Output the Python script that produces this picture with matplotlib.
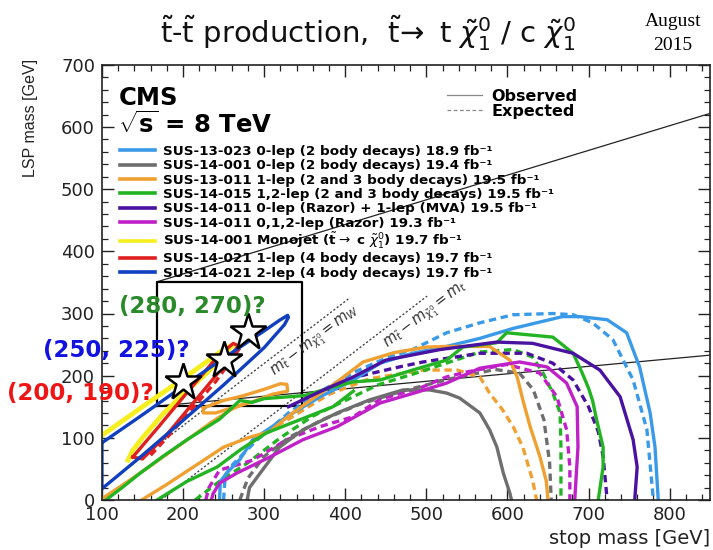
import matplotlib
matplotlib.use("Agg")
import matplotlib.pyplot as plt
from matplotlib.ticker import MultipleLocator
from matplotlib.lines import Line2D

plt.rcParams['font.family'] = ['DejaVu Sans']
plt.rcParams['mathtext.fontset'] = 'custom'
plt.rcParams['mathtext.rm'] = 'DejaVu Sans'
plt.rcParams['mathtext.it'] = 'DejaVu Sans:italic'
plt.rcParams['mathtext.bf'] = 'DejaVu Sans:bold'

# ---------------- exclusion contours (stop mass, LSP mass) in GeV ----------------
# SUS-13-023 0-lep (2 body decays)
s13023_obs_x = [245, 246, 255, 270, 286, 328, 369, 410, 443, 483, 525, 566, 607, 668, 689, 723, 747, 763, 776, 782, 786]
s13023_obs_y = [0, 30, 45, 65, 97, 134, 166, 193, 220, 236, 247, 260, 276, 295, 295, 290, 269, 214, 140, 85, 0]
s13023_exp_x = [250, 252, 262, 290, 330, 370, 410, 450, 483, 525, 566, 607, 656, 681, 705, 730, 755, 772, 780]
s13023_exp_y = [0, 40, 58, 95, 140, 175, 205, 228, 242, 269, 285, 298, 300, 298, 285, 258, 193, 113, 0]

# SUS-14-001 0-lep (2 body decays)
s14001_obs_x = [279, 282, 295, 319, 348, 390, 430, 471, 504, 525, 541, 566, 578, 587, 595, 603, 605]
s14001_obs_y = [0, 20, 43, 85, 113, 140, 161, 177, 177, 172, 164, 140, 113, 85, 43, 11, 0]
s14001_exp_x = [270, 280, 300, 330, 370, 420, 470, 530, 585, 615, 632, 645, 652, 654]
s14001_exp_y = [0, 35, 70, 100, 128, 155, 175, 195, 210, 204, 177, 129, 60, 0]

# SUS-13-011 1-lep (2 and 3 body decays)
s13011_obs_x = [149, 180, 215, 250, 280, 307, 330, 360, 390, 422, 460, 500, 525, 578, 603, 612, 619, 628, 640, 648, 650]
s13011_obs_y = [0, 25, 55, 85, 100, 110, 135, 163, 190, 222, 237, 246, 247, 247, 225, 198, 161, 118, 70, 30, 0]
s13011_diag_x = [100, 130, 160, 200, 235, 260, 272]
s13011_diag_y = [2, 28, 55, 92, 125, 146, 153]
s13011_island_x = [225, 250, 275, 300, 320, 328, 329, 310, 286, 260, 240, 225, 225]
s13011_island_y = [148, 160, 168, 178, 187, 186, 175, 170, 158, 148, 140, 140, 148]
s13011_exp_x = [290, 330, 380, 430, 496, 538, 566, 578, 594, 607, 619, 631, 636]
s13011_exp_y = [100, 130, 170, 195, 209, 209, 198, 172, 145, 118, 85, 32, 0]

# SUS-14-015 1,2-lep (2 and 3 body decays)
s14015_obs_x = [105, 125, 147, 175, 205, 245, 270, 285, 300, 350, 380, 410, 443, 483, 525, 545, 587, 599,
                656, 681, 692, 700, 705, 710, 718, 718, 712]
s14015_obs_y = [0, 20, 43, 70, 97, 130, 160, 157, 163, 168, 180, 190, 193, 209, 225, 246, 253, 269,
                262, 236, 205, 180, 160, 129, 85, 53, 0]
s14015_band_x = [168, 205, 242, 272, 303, 344, 385, 410]
s14015_band_y = [0, 30, 53, 82, 108, 129, 150, 175]
s14015_exp_x = [215, 245, 280, 320, 360, 400, 440, 492, 566, 607, 631, 644, 656, 665, 666, 666]
s14015_exp_y = [0, 30, 60, 100, 135, 160, 185, 206, 238, 242, 230, 204, 172, 140, 85, 0]

# SUS-14-011 0-lep (Razor) + 1-lep (MVA)
s14011a_obs_x = [330, 370, 410, 450, 517, 587, 631, 681, 714, 739, 755, 760, 757]
s14011a_obs_y = [150, 175, 198, 225, 242, 254, 252, 236, 209, 166, 97, 53, 0]
s14011a_exp_x = [350, 420, 470, 496, 566, 624, 656, 681, 700, 712, 718, 723]
s14011a_exp_y = [165, 200, 215, 222, 236, 236, 220, 193, 150, 110, 70, 0]

# SUS-14-011 0,1,2-lep (Razor)
s14011b_obs_x = [235, 237, 245, 266, 307, 348, 390, 443, 485, 525, 566, 615, 649, 673, 686, 687, 683]
s14011b_obs_y = [0, 10, 27, 43, 69, 97, 118, 156, 172, 188, 212, 222, 214, 188, 150, 85, 0]
s14011b_exp_x = [228, 232, 245, 286, 328, 369, 410, 443, 492, 525, 550, 599, 640, 661, 673, 677, 677]
s14011b_exp_y = [0, 20, 48, 64, 97, 118, 134, 162, 180, 198, 206, 218, 204, 166, 113, 53, 0]

# SUS-14-001 Monojet (stop -> c chi)
mono_obs_x = [132, 138, 150, 175, 200, 230, 255, 262, 250, 200, 150, 100]
mono_obs_y = [64, 80, 100, 138, 170, 205, 240, 250, 242, 195, 150, 104]

# SUS-14-021 1-lep (4 body decays)
s14021a_obs_x = [138, 170, 200, 242, 262, 268, 250, 215, 180, 150, 138]
s14021a_obs_y = [69, 118, 165, 230, 252, 248, 215, 160, 105, 66, 69]
s14021a_exp_x = [160, 180, 210, 240, 262, 272]
s14021a_exp_y = [72, 100, 145, 190, 230, 248]

# SUS-14-021 2-lep (4 body decays)
s14021b_obs_x = [100, 150, 200, 250, 300, 320, 329, 330, 325, 300, 250, 200, 150, 100, 100]
s14021b_obs_y = [92, 137, 183, 228, 272, 290, 297, 294, 282, 245, 185, 128, 72, 18, 92]

# kinematic boundaries m_stop - m_LSP = m_W, m_t
mw_x = [100, 406]
mt_x = [173, 501]
m_w = 80.4
m_top = 173.0

# benchmark points in question
bench_x = [200, 250, 280]
bench_y = [190, 225, 270]
bench_labels = ["(200, 190)?", "(250, 225)?", "(280, 270)?"]
bench_colors = ["#ee1515", "#1212e0", "#2a8a2a"]

# zoom box and its guide lines
box_x = [168, 347, 347, 168, 168]
box_y = [151, 151, 351, 351, 151]
guide_top_x, guide_top_y = [168, 850], [351, 622]
guide_bot_x, guide_bot_y = [168, 850], [151, 233]

x_range = (100, 850)
y_range = (0, 700)

c_lblue = "#3a9ae8"
c_gray = "#6e6e6e"
c_orange = "#f0a030"
c_green = "#22b422"
c_indigo = "#4a12a0"
c_magenta = "#c020c8"
c_yellow = "#f6ee1e"
c_red = "#e02020"
c_blue = "#1040c0"

fig = plt.figure(figsize=(7.13, 5.5), dpi=100)
ax = fig.add_axes([0.143, 0.091, 0.853, 0.791])
ax.set_xlim(*x_range)
ax.set_ylim(*y_range)

lw = 2.4
dash = (0, (2.2, 1.4))

# kinematic lines
ax.plot(mw_x, [x - m_w for x in mw_x], color="#444444", lw=1.0, ls=(0, (1.5, 1.5)))
ax.plot(mt_x, [x - m_top for x in mt_x], color="#444444", lw=1.0, ls=(0, (1.5, 1.5)))
ax.text(363, 255, r"$m_{\tilde{t}}-m_{\tilde{\chi}^0_1}=m_W$", rotation=37.5, rotation_mode='anchor',
        ha='center', va='center', fontsize=10.5, color="#333333")
ax.text(500, 296, r"$m_{\tilde{t}}-m_{\tilde{\chi}^0_1}=m_t$", rotation=37.5, rotation_mode='anchor',
        ha='center', va='center', fontsize=10.5, color="#333333")

# guide lines and box
ax.plot(guide_top_x, guide_top_y, color="#222222", lw=0.9)
ax.plot(guide_bot_x, guide_bot_y, color="#222222", lw=0.9)
ax.plot(box_x, box_y, color="black", lw=1.6)

# expected (dashed)
ax.plot(s13023_exp_x, s13023_exp_y, color=c_lblue, lw=lw, ls=dash)
ax.plot(s14001_exp_x, s14001_exp_y, color=c_gray, lw=lw, ls=dash)
ax.plot(s13011_exp_x, s13011_exp_y, color=c_orange, lw=lw, ls=dash)
ax.plot(s14015_exp_x, s14015_exp_y, color=c_green, lw=lw, ls=dash)
ax.plot(s14011a_exp_x, s14011a_exp_y, color=c_indigo, lw=lw, ls=dash)
ax.plot(s14011b_exp_x, s14011b_exp_y, color=c_magenta, lw=lw, ls=dash)
ax.plot(s14021a_exp_x, s14021a_exp_y, color=c_red, lw=lw, ls=dash)

# observed (solid)
h_mono, = ax.plot(mono_obs_x, mono_obs_y, color=c_yellow, lw=3.4)
h13023, = ax.plot(s13023_obs_x, s13023_obs_y, color=c_lblue, lw=lw)
h14001, = ax.plot(s14001_obs_x, s14001_obs_y, color=c_gray, lw=lw)
h13011, = ax.plot(s13011_obs_x, s13011_obs_y, color=c_orange, lw=lw)
ax.plot(s13011_diag_x, s13011_diag_y, color=c_orange, lw=lw)
ax.plot(s13011_island_x, s13011_island_y, color=c_orange, lw=lw)
h14015, = ax.plot(s14015_obs_x, s14015_obs_y, color=c_green, lw=lw)
ax.plot(s14015_band_x, s14015_band_y, color=c_green, lw=lw)
h14011a, = ax.plot(s14011a_obs_x, s14011a_obs_y, color=c_indigo, lw=lw)
h14011b, = ax.plot(s14011b_obs_x, s14011b_obs_y, color=c_magenta, lw=lw)
h14021a, = ax.plot(s14021a_obs_x, s14021a_obs_y, color=c_red, lw=lw)
h14021b, = ax.plot(s14021b_obs_x, s14021b_obs_y, color=c_blue, lw=lw)

# benchmark stars
ax.plot(bench_x, bench_y, ls='none', marker='*', markersize=28, markerfacecolor='white',
        markeredgecolor='black', markeredgewidth=1.8, zorder=5)
label_pos = [(73, 172), (118, 241), (212, 312)]
for (lx, ly), txt, col in zip(label_pos, bench_labels, bench_colors):
    ax.text(lx, ly, txt, color=col, fontsize=16.5, fontweight='bold', ha='center', va='center', zorder=6)

# analysis legend
fb = " fb\u207b\u00b9"
handles = [h13023, h14001, h13011, h14015, h14011a, h14011b, h_mono, h14021a, h14021b]
labels = [
    "SUS-13-023 0-lep (2 body decays) 18.9" + fb,
    "SUS-14-001 0-lep (2 body decays) 19.4" + fb,
    "SUS-13-011 1-lep (2 and 3 body decays) 19.5" + fb,
    "SUS-14-015 1,2-lep (2 and 3 body decays) 19.5" + fb,
    "SUS-14-011 0-lep (Razor) + 1-lep (MVA) 19.5" + fb,
    "SUS-14-011 0,1,2-lep (Razor) 19.3" + fb,
    r"SUS-14-001 Monojet ($\tilde{\mathbf{t}}\rightarrow$ c $\tilde{\chi}^{0}_{1}$) 19.7" + fb,
    "SUS-14-021 1-lep (4 body decays) 19.7" + fb,
    "SUS-14-021 2-lep (4 body decays) 19.7" + fb,
]
leg = ax.legend(handles, labels, loc='upper left', bbox_to_anchor=(0.030, 0.816), frameon=False,
                borderpad=0, borderaxespad=0, handlelength=2.6, handletextpad=0.6,
                labelspacing=0.1, prop={'weight': 'bold', 'size': 9.7})
for h in leg.legend_handles:
    h.set_linewidth(2.6)
ax.add_artist(leg)

# observed / expected key
key = [Line2D([], [], color="#888888", lw=0.9), Line2D([], [], color="#888888", lw=0.9, ls=(0, (3, 2)))]
ax.legend(key, ["Observed", "Expected"], loc='upper left', bbox_to_anchor=(0.567, 0.945),
          frameon=False, borderpad=0, borderaxespad=0, handlelength=2.2, handletextpad=0.6,
          labelspacing=0.0, prop={'weight': 'bold', 'size': 11.5})

# experiment labels
ax.text(0.027, 0.925, "CMS", transform=ax.transAxes, fontsize=17.5, fontweight='bold', va='center', ha='left')
ax.text(0.027, 0.862, r"$\sqrt{\mathbf{s}}$ = 8 TeV", transform=ax.transAxes, fontsize=17.5,
        fontweight='bold', va='center', ha='left')

# axes styling
ax.xaxis.set_major_locator(MultipleLocator(100))
ax.xaxis.set_minor_locator(MultipleLocator(20))
ax.yaxis.set_major_locator(MultipleLocator(100))
ax.yaxis.set_minor_locator(MultipleLocator(20))
ax.tick_params(which='both', direction='in', top=True, right=True, colors="#222222", labelsize=13)
ax.tick_params(which='major', length=8.5, width=1.0)
ax.tick_params(which='minor', length=4.3, width=0.9)
ax.tick_params(axis='y', pad=5)
ax.tick_params(axis='x', pad=4)
for sp in ax.spines.values():
    sp.set_linewidth(1.2)
    sp.set_color("#222222")

ax.set_xlabel("stop mass [GeV]", fontsize=14, ha='right', va='center', color="#222222")
ax.xaxis.set_label_coords(1.0, -0.088)
ax.set_ylabel("LSP mass [GeV]", fontsize=11.5, family='Liberation Sans', ha='center', va='center',
              color="#222222")
ax.yaxis.set_label_coords(-0.117, 0.878)

# title
fig.text(160 / 713, 1 - 33 / 550,
         r"$\tilde{\mathrm{t}}$-$\tilde{\mathrm{t}}$ production,  $\tilde{\mathrm{t}}\!\rightarrow$ t $\tilde{\chi}^{0}_{1}$ / c $\tilde{\chi}^{0}_{1}$",
         fontsize=21, ha='left', va='center', color="#111111")
fig.text(673 / 713, 1 - 22 / 550, "August", family='Liberation Serif', fontsize=14, ha='center', va='center')
fig.text(673 / 713, 1 - 46 / 550, "2015", family='Liberation Serif', fontsize=14, ha='center', va='center')

fig.savefig("out.png", dpi=100)
